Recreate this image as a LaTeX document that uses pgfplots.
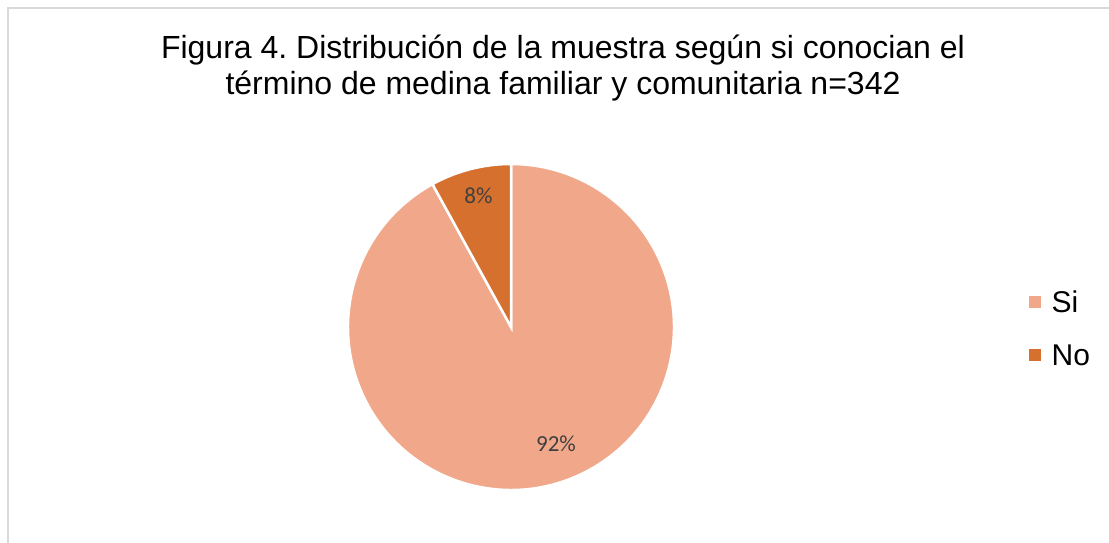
\documentclass[border=0pt]{standalone}
\usepackage{pgfplots}
\usepackage{pgfplotstable}
\usepackage{fontspec}
\pgfplotsset{compat=1.18}
\setmainfont{Liberation Sans}
\newfontfamily\calibri{Carlito}
\frenchspacing

\definecolor{sicolor}{HTML}{F1A88A}
\definecolor{nocolor}{HTML}{D5702E}
\definecolor{labelcolor}{HTML}{404040}
\definecolor{framecolor}{HTML}{D9D9D9}

% porcentajes de la muestra (n=342)
\pgfplotstableread{
label value
Si 92
No 8
}\piedata

\begin{document}
\begin{tikzpicture}
\useasboundingbox (0,0) rectangle (1109pt,543pt);
\pgfplotstablegetelem{0}{value}\of\piedata \let\vsi\pgfplotsretval
\pgfplotstablegetelem{1}{value}\of\piedata \let\vno\pgfplotsretval
% el gráfico empieza arriba y va en sentido horario: "No" queda a la izquierda de las 12
\pgfmathsetmacro{\aStart}{90}
\pgfmathsetmacro{\aNo}{90+3.6*\vno}
\pgfmathsetmacro{\aEnd}{\aNo+3.6*\vsi}
\begin{axis}[
    at={(0pt,0pt)}, anchor=origin,
    width=1109pt, height=543pt, scale only axis,
    xmin=0, xmax=1109, ymin=0, ymax=543,
    hide axis,
    clip=false,
    legend style={
        at={(axis cs:1029,252)}, anchor=north west,
        draw=none, fill=none, inner sep=0pt,
        font=\fontsize{30}{30}\selectfont,
        row sep=31pt,
        nodes={inner sep=0pt, text height=21.5pt, text depth=0pt},
        /tikz/every odd column/.append style={column sep=11pt},
    },
    legend cell align=left,
    legend image code/.code={\fill[#1] (0pt,-5.5pt) rectangle (11pt,5.5pt);},
]
\addlegendimage{sicolor}
\addlegendentry{Si}
\addlegendimage{nocolor}
\addlegendentry{No}

% marco del área del gráfico
\draw[framecolor, line width=1.5pt] (axis cs:8,0) -- (axis cs:8,535) -- (axis cs:1109,535);

% título
\node[anchor=base, inner sep=0pt, font=\fontsize{32}{32}\selectfont] at (axis cs:563,484) {Figura 4. Distribución de la muestra según si conocian el};
\node[anchor=base, inner sep=0pt, font=\fontsize{32}{32}\selectfont] at (axis cs:563,448) {término de medina familiar y comunitaria n=342};

% sectores
\fill[sicolor, draw=white, line width=2.5pt] (axis cs:511,216) -- ++(\aNo:163pt) arc[start angle=\aNo, end angle=\aEnd, radius=163pt] -- cycle;
\fill[nocolor, draw=white, line width=2.5pt] (axis cs:511,216) -- ++(\aStart:163pt) arc[start angle=\aStart, end angle=\aNo, radius=163pt] -- cycle;

% etiquetas de datos
\node[labelcolor, inner sep=0pt, font=\calibri\fontsize{23}{23}\selectfont] at (axis cs:478.5,347.5) {\vno\%};
\node[labelcolor, inner sep=0pt, font=\calibri\fontsize{23}{23}\selectfont] at (axis cs:556,99) {\vsi\%};
\end{axis}
\end{tikzpicture}
\end{document}
